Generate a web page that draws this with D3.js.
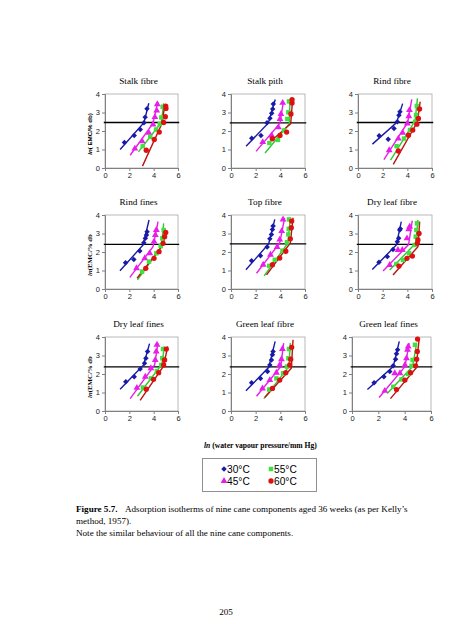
<!DOCTYPE html>
<html><head><meta charset="utf-8">
<script src="https://cdn.jsdelivr.net/npm/d3@7"></script>
<style>body{margin:0;background:#fff}</style></head>
<body><svg id="c" width="452" height="640"></svg>
<script>
// ---------- DATA ----------
const panelTitles = ["Stalk fibre","Stalk pith","Rind fibre","Rind fines","Top fibre","Dry leaf fibre","Dry leaf fines","Green leaf fibre","Green leaf fines"];
const seriesNames = ["30°C","45°C","55°C","60°C"];
const xTicks = [0,2,4,6];
const yTicks = [0,1,2,3,4];
const refLevel = [2.46,2.44,2.46,2.41,2.44,2.41,2.38,2.38,2.38];

const pts30 = [
 [[1.6,1.38],[2.4,1.76],[2.9,2.08],[3.2,2.45],[3.3,2.75],[3.45,3.2]],
 [[1.68,1.61],[2.43,1.76],[2.92,2.44],[3.16,2.69],[3.3,2.96],[3.38,3.19],[3.43,3.46]],
 [[1.72,1.74],[2.45,1.56],[2.92,2.14],[3.19,2.5],[3.32,2.85],[3.4,3.04]],
 [[1.69,1.42],[2.37,1.6],[2.86,2.05],[3.19,2.5],[3.32,2.74],[3.41,2.92],[3.46,3.1]],
 [[1.67,1.53],[2.39,1.8],[2.93,2.27],[3.15,2.71],[3.28,2.95],[3.36,3.22],[3.41,3.4]],
 [[1.7,1.44],[2.38,1.75],[2.84,2.14],[3.19,2.56],[3.3,2.74],[3.38,3.19],[3.43,3.26]],
 [[1.71,1.58],[2.4,1.85],[2.89,2.27],[3.25,2.58],[3.36,2.85],[3.5,3.22]],
 [[1.67,1.53],[2.39,1.76],[2.96,2.13],[3.15,2.49],[3.28,2.76],[3.36,3.04],[3.41,3.22]],
 [[1.68,1.53],[2.42,1.85],[2.87,2.13],[3.13,2.45],[3.31,2.8],[3.38,3.09],[3.46,3.31]]
];
const fit30 = [
 [[1.24,1.0],[3.2,2.45],[3.6,3.5]],
 [[1.22,1.17],[3.03,2.44],[3.59,3.7]],
 [[1.17,1.29],[3.13,2.46],[3.62,3.48]],
 [[1.23,0.99],[3.13,2.38],[3.62,3.73]],
 [[1.21,1.04],[3.06,2.45],[3.55,3.76]],
 [[1.16,1.06],[3.11,2.38],[3.51,3.64]],
 [[1.24,1.18],[3.17,2.49],[3.66,3.64]],
 [[1.21,1.09],[3.06,2.36],[3.58,3.76]],
 [[1.17,1.16],[3.13,2.4],[3.59,3.76]]
];
const pts45 = [
 [[2.45,1.05],[3.05,1.45],[3.6,1.9],[3.95,2.35],[4.1,2.75],[4.25,3.1],[4.3,3.45]],
 [[2.57,1.4],[3.3,1.76],[3.84,2.2],[3.97,2.65],[4.05,2.92],[4.19,3.52]],
 [[2.53,0.96],[3.27,1.59],[3.62,1.9],[4.0,2.41],[4.12,2.8],[4.17,3.13]],
 [[2.59,1.12],[3.27,1.66],[3.68,1.93],[4.03,2.56],[4.14,2.92],[4.22,3.19]],
 [[2.61,1.31],[3.2,1.85],[3.74,2.27],[3.95,2.67],[4.11,3.13],[4.22,3.76]],
 [[2.57,1.3],[3.24,2.11],[3.59,2.11],[3.97,2.74],[4.11,3.23],[4.19,3.37]],
 [[2.62,1.25],[3.31,1.85],[3.77,2.31],[4.13,2.76],[4.21,3.22],[4.27,3.58]],
 [[2.55,1.22],[3.15,1.67],[3.68,2.07],[3.95,2.49],[4.09,2.8],[4.17,3.35]],
 [[2.49,1.09],[3.25,2.04],[3.64,2.04],[4.02,2.49],[4.14,2.85],[4.22,3.31],[4.27,3.49]]
];
const fit45 = [
 [[2.07,0.69],[3.94,2.41],[4.35,3.58]],
 [[2.03,0.9],[3.97,2.42],[4.24,3.55]],
 [[2.1,0.45],[4.03,2.46],[4.36,3.71]],
 [[2.04,0.63],[3.95,2.29],[4.36,3.64]],
 [[2.07,0.85],[3.95,2.49],[4.35,3.85]],
 [[2.03,0.97],[4.1,2.4],[4.4,3.7]],
 [[2.07,0.67],[4.08,2.49],[4.35,3.67]],
 [[2.07,0.8],[4.03,2.4],[4.27,3.67]],
 [[2.06,0.73],[4.02,2.4],[4.35,3.67]]
];
const pts55 = [
 [[3.1,1.18],[3.72,1.68],[4.2,2.08],[4.5,2.37],[4.63,2.73],[4.74,3.31]],
 [[3.11,1.35],[3.81,1.52],[4.3,2.03],[4.57,2.65],[4.65,3.01],[4.7,3.6]],
 [[3.13,1.18],[3.73,1.59],[4.22,2.05],[4.63,2.5],[4.71,2.86],[4.77,3.35]],
 [[3.05,0.94],[3.62,1.48],[4.22,1.93],[4.58,2.32],[4.71,2.74],[4.82,3.19]],
 [[3.09,1.25],[3.55,1.58],[4.17,2.07],[4.54,2.53],[4.65,2.95],[4.68,3.25],[4.7,3.76]],
 [[3.11,1.35],[3.65,1.57],[4.14,1.93],[4.59,2.38],[4.68,2.83],[4.73,3.19],[4.78,3.55]],
 [[3.11,1.27],[3.77,1.76],[4.27,2.16],[4.63,2.49],[4.71,2.85],[4.77,3.35]],
 [[3.09,1.16],[3.68,1.76],[4.22,2.04],[4.54,2.4],[4.65,2.85],[4.7,3.35]],
 [[3.13,1.31],[3.76,1.71],[4.27,2.0],[4.52,2.44],[4.6,2.76],[4.78,3.58]]
];
const fit55 = [
 [[2.75,0.87],[4.63,2.46],[4.82,3.49]],
 [[2.76,0.81],[4.73,2.39],[4.78,3.64]],
 [[2.64,0.42],[4.63,2.55],[4.82,3.76]],
 [[2.67,0.49],[4.63,2.29],[4.82,3.55]],
 [[2.69,0.71],[4.62,2.49],[4.81,3.85]],
 [[2.57,1.03],[4.68,2.47],[4.86,3.73]],
 [[2.67,0.8],[4.68,2.53],[4.88,3.49]],
 [[2.66,0.67],[4.7,2.4],[4.81,3.67]],
 [[2.67,0.95],[4.6,2.4],[4.91,3.67]]
];
const pts60 = [
 [[3.39,0.96],[4.05,1.54],[4.46,1.94],[4.82,2.46],[4.96,2.77],[5.01,3.22],[4.99,3.35]],
 [[3.35,1.58],[3.97,1.76],[4.51,1.94],[4.86,2.92],[4.95,3.52],[4.95,3.7]],
 [[3.27,0.92],[4.09,1.77],[4.44,2.05],[4.77,2.37],[4.9,2.68],[4.99,3.19]],
 [[3.35,1.12],[4.03,1.66],[4.44,2.02],[4.77,2.47],[4.9,2.83],[4.99,3.06]],
 [[3.36,1.31],[3.95,1.67],[4.44,2.04],[4.81,2.71],[4.89,3.31],[4.92,3.67]],
 [[3.32,1.24],[3.97,1.66],[4.41,1.78],[4.81,2.47],[4.86,2.65],[4.95,3.0]],
 [[3.39,1.18],[3.99,1.71],[4.41,2.07],[4.82,2.49],[4.9,2.76],[5.04,3.35]],
 [[3.36,1.22],[3.95,1.67],[4.44,2.07],[4.76,2.49],[4.84,2.8],[4.92,3.44]],
 [[3.38,1.16],[4.02,1.67],[4.45,2.07],[4.83,2.44],[4.91,2.8],[4.96,3.22],[4.98,3.89]]
];
const fit60 = [
 [[3.08,0.1],[4.68,2.4],[4.93,3.45]],
 [[3.3,1.49],[4.84,2.39],[5.0,3.73]],
 [[2.86,0.2],[4.82,2.5],[5.04,3.58]],
 [[2.64,0.58],[4.77,2.38],[5.04,3.19]],
 [[2.88,0.76],[4.81,2.49],[5.03,3.85]],
 [[2.84,0.76],[4.86,2.29],[5.0,3.64]],
 [[2.89,0.58],[4.82,2.44],[5.15,3.49]],
 [[2.74,0.73],[4.89,2.31],[5.03,3.85]],
 [[2.92,0.67],[4.86,2.31],[5.11,3.95]]
];
const yAxisTitles = [["ln","( EMC/% db)"],["ln","(EMC/% db"],["ln","(EMC/% db"]];

// ---------- STYLE / LAYOUT ----------
const series = [
 {pts:pts30, fit:fit30, fill:"#1a1aa8", line:"#1a1aa8", sym:d3.symbolSquare, rot:45, size:15},
 {pts:pts45, fit:fit45, fill:"#e81ee8", line:"#e81ee8", sym:d3.symbolTriangle, rot:0, size:20},
 {pts:pts55, fit:fit55, fill:"#3fe03f", line:"#2fc82f", sym:d3.symbolSquare, rot:0, size:20},
 {pts:pts60, fit:fit60, fill:"#dd1111", line:"#c01010", sym:d3.symbolCircle, rot:0, size:22}
];
const colL = [105,231,358], colR = [178,305,432];
const rowT = [94,215,337], rowB = [168,289,411];
const svg = d3.select("#c");
const SERIF = "'Liberation Serif','Times New Roman',serif";
const SANS = "'Liberation Sans',Arial,sans-serif";

panelTitles.forEach((title,i)=>{
  const r = Math.floor(i/3), c = i%3;
  let x0 = colL[c], x1 = colR[c];
  if (i===8){ x0 = 352; x1 = 431; }
  const yb = rowB[r], yt = rowT[r];
  const xs = d3.scaleLinear().domain([0,6]).range([x0,x1]);
  const ys = d3.scaleLinear().domain([0,4]).range([yb,yt]);
  const g = svg.append("g");
  g.append("rect").attr("x",x0).attr("y",yt).attr("width",x1-x0).attr("height",yb-yt)
    .attr("fill","#fff").attr("stroke","#a8a8a8").attr("stroke-width",0.8);
  const ax = g.append("g").attr("transform",`translate(0,${yb})`)
    .call(d3.axisBottom(xs).tickValues(xTicks).tickSize(3).tickPadding(2).tickFormat(d3.format("d")));
  const ay = g.append("g").attr("transform",`translate(${x0},0)`)
    .call(d3.axisLeft(ys).tickValues(yTicks).tickSize(3).tickPadding(2).tickFormat(d3.format("d")));
  [ax,ay].forEach(a=>{
    a.select(".domain").attr("stroke","#808080");
    a.selectAll(".tick line").attr("stroke","#808080");
    a.selectAll(".tick text").attr("font-family",SANS).attr("font-size",7.5).attr("fill","#222");
  });
  g.append("line").attr("x1",xs(-0.1)).attr("x2",xs(6.1)).attr("y1",ys(refLevel[i])).attr("y2",ys(refLevel[i]))
    .attr("stroke","#000").attr("stroke-width",1.3);
  const line = d3.line().x(d=>xs(d[0])).y(d=>ys(d[1]));
  series.forEach(s=>{
    g.append("path").attr("d",line(s.fit[i])).attr("fill","none").attr("stroke",s.line).attr("stroke-width",1.4);
  });
  series.forEach(s=>{
    g.selectAll(null).data(s.pts[i]).enter().append("path")
      .attr("d",d3.symbol().type(s.sym).size(s.size))
      .attr("transform",d=>`translate(${xs(d[0])},${ys(d[1])}) rotate(${s.rot})`)
      .attr("fill",s.fill);
  });
  g.append("text").attr("x",(x0+x1)/2-3).attr("y",yt-10).attr("text-anchor","middle")
    .attr("font-family",SERIF).attr("font-size",9.2).attr("fill","#000").text(title);
  if (c===0){
    const t = svg.append("text").attr("transform",`translate(92,${(yt+yb)/2+3}) rotate(-90)`)
      .attr("text-anchor","middle").attr("font-family", r===0?SANS:SERIF).attr("font-weight","bold")
      .attr("font-size", r===0?6.2:6.8).attr("fill","#000");
    t.append("tspan").attr("font-style","italic").text(yAxisTitles[r][0]);
    t.append("tspan").text(yAxisTitles[r][1]);
  }
});

function fitWidth(sel, w){
  const len = sel.node().getComputedTextLength();
  const fs = parseFloat(sel.attr("font-size"));
  sel.attr("font-size", fs*w/len);
}

const xt = svg.append("text").attr("x",204).attr("y",448).attr("font-family",SERIF).attr("font-weight","bold")
  .attr("font-size",9).attr("fill","#000");
xt.append("tspan").attr("font-style","italic").text("ln");
xt.append("tspan").text(" (water vapour pressure/mm Hg)");
fitWidth(xt, 113);

svg.append("rect").attr("x",202.5).attr("y",458.5).attr("width",114).attr("height",33)
  .attr("fill","#fff").attr("stroke","#909090").attr("stroke-width",1);
const legPos = [[224,469],[224,481],[271,469],[271,481]];
series.forEach((s,k)=>{
  const [lx,ly] = legPos[k];
  svg.append("path").attr("d",d3.symbol().type(s.sym).size(s.size)).attr("transform",`translate(${lx},${ly}) rotate(${s.rot})`).attr("fill",s.fill);
  svg.append("text").attr("x",lx+3).attr("y",ly+3.6).attr("font-family",SANS).attr("font-size",10.2)
    .attr("fill","#000").text(seriesNames[k]);
});

const CAP = 9.1;
const cap1 = svg.append("text").attr("x",76).attr("y",512).attr("font-family",SERIF).attr("font-size",CAP).attr("fill","#000");
cap1.append("tspan").attr("font-weight","bold").text("Figure 5.7.");
cap1.append("tspan").attr("x",125).text("Adsorption isotherms of nine cane components aged 36 weeks (as per Kelly\u2019s");
svg.append("text").attr("x",76).attr("y",524).attr("font-family",SERIF).attr("font-size",CAP).attr("fill","#000")
  .text("method, 1957).");
svg.append("text").attr("x",76).attr("y",536).attr("font-family",SERIF).attr("font-size",CAP).attr("fill","#000")
  .text("Note the similar behaviour of all the nine cane components.");
svg.append("text").attr("x",226).attr("y",615).attr("text-anchor","middle").attr("font-family",SERIF)
  .attr("font-size",CAP).attr("fill","#000").text("205");
</script></body></html>
